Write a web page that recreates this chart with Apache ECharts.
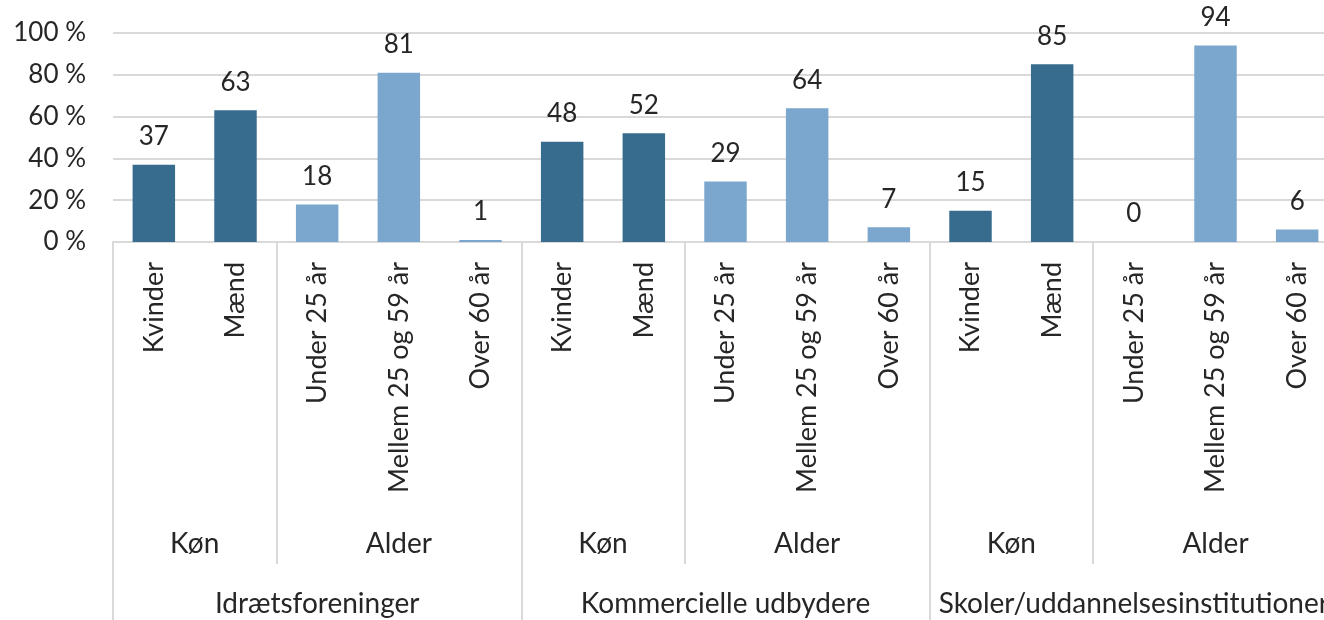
<!DOCTYPE html>
<html>
<head>
<meta charset="utf-8">
<script src="https://cdn.jsdelivr.net/npm/echarts@6/dist/echarts.min.js"></script>
<style>
html,body{margin:0;padding:0;background:#fff;}
#chart{width:1324px;height:620px;}
</style>
</head>
<body>
<div id="chart"></div>
<script>
// ---- data ----
const groups = ['Idrætsforeninger', 'Kommercielle udbydere', 'Skoler/uddannelsesinstitutioner'];
const levels = ['Køn', 'Alder'];
const konCategories = ['Kvinder', 'Mænd'];
const alderCategories = ['Under 25 år', 'Mellem 25 og 59 år', 'Over 60 år'];
const idraetValues = [37, 63, 18, 81, 1];
const kommercielleValues = [48, 52, 29, 64, 7];
const skolerValues = [15, 85, 0, 94, 6];
const yTicks = [0, 20, 40, 60, 80, 100];

// ---- build ----
const FONT = 'Lato';
const FS = 26;
const DARK = '#386C8F';
const LIGHT = '#7BA7CE';
const GRAYLINE = '#D9D9D9';
const groupValues = [idraetValues, kommercielleValues, skolerValues];
const levelCats = [konCategories, alderCategories];
const levelColors = [DARK, LIGHT];

const categories = [];
const barData = [];
const levelTicks = [];
const levelLabels = [];
const groupTicks = [0];
const groupLabels = [];
let pos = 0;
groups.forEach((g, gi) => {
  const gStart = pos;
  let k = 0;
  levels.forEach((lv, li) => {
    const lStart = pos;
    levelCats[li].forEach(c => {
      categories.push(c);
      barData.push({ value: groupValues[gi][k], itemStyle: { color: levelColors[li] } });
      k++; pos++;
    });
    levelLabels.push({ v: (lStart + pos) / 2, name: lv });
    if (li < levels.length - 1) levelTicks.push(pos);
  });
  groupTicks.push(pos);
  groupLabels.push({ v: (gStart + pos) / 2, name: g });
});
const N = categories.length;

const chart = echarts.init(document.getElementById('chart'), null, { renderer: 'canvas' });
const textColor = '#262626';
chart.setOption({
  animation: false,
  backgroundColor: '#fff',
  grid: { left: 113, top: 33, width: 1225, height: 209, containLabel: false, outerBoundsMode: 'none' },
  yAxis: {
    type: 'value', min: yTicks[0], max: yTicks[yTicks.length - 1], interval: yTicks[1] - yTicks[0],
    axisLine: { show: false }, axisTick: { show: false },
    splitLine: { lineStyle: { color: GRAYLINE, width: 2 } },
    axisLabel: { formatter: '{value} %', fontFamily: FONT, fontSize: FS, color: textColor, margin: 27 }
  },
  xAxis: [
    {
      type: 'category', data: categories, position: 'bottom',
      axisLine: { lineStyle: { color: GRAYLINE, width: 2 } },
      axisTick: { show: false },
      axisLabel: { rotate: 90, interval: 0, margin: 20, fontFamily: FONT, fontSize: 27, color: textColor }
    },
    {
      type: 'value', min: 0, max: N, position: 'bottom',
      axisLine: { show: false }, splitLine: { show: false },
      axisTick: { show: true, customValues: levelTicks, length: 322, lineStyle: { color: GRAYLINE, width: 2 } },
      axisLabel: {
        customValues: levelLabels.map(d => d.v),
        formatter: v => { const d = levelLabels.find(x => Math.abs(x.v - v) < 1e-6); return d ? d.name : ''; },
        margin: 288, fontFamily: FONT, fontSize: 28, color: textColor
      }
    },
    {
      type: 'value', min: 0, max: N, position: 'bottom',
      axisLine: { show: false }, splitLine: { show: false },
      axisTick: { show: true, customValues: groupTicks, length: 380, lineStyle: { color: GRAYLINE, width: 2 } },
      axisLabel: {
        customValues: groupLabels.map(d => d.v),
        formatter: v => { const d = groupLabels.find(x => Math.abs(x.v - v) < 1e-6); return d ? d.name : ''; },
        margin: 348, fontFamily: FONT, fontSize: 28, color: textColor
      }
    }
  ],
  series: [{
    type: 'bar', xAxisIndex: 0, yAxisIndex: 0,
    data: barData, barWidth: '52%',
    label: { show: true, position: 'top', distance: 15, fontFamily: FONT, fontSize: FS, color: textColor }
  }]
});
</script>
</body>
</html>
